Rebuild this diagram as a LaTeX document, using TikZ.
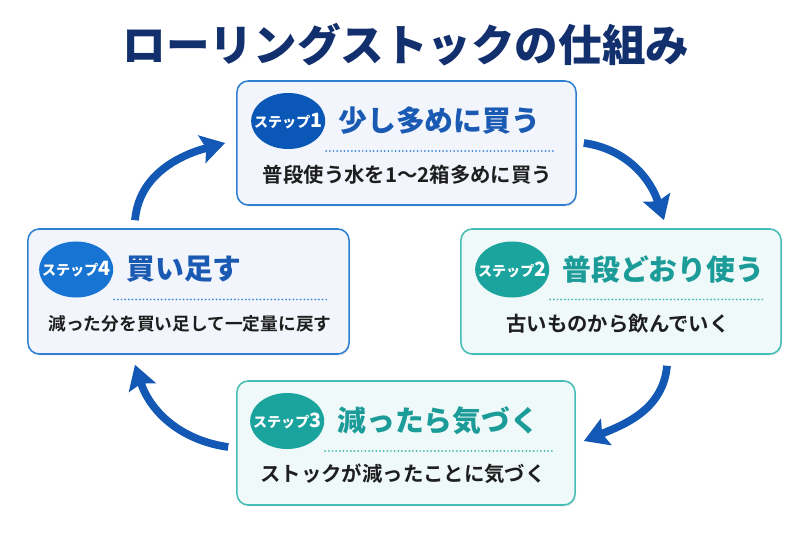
\documentclass[tikz,border=0pt]{standalone}
\usepackage{fontspec}
\setmainfont{Noto Sans CJK JP}[BoldFont={* Bold}]
\newfontfamily\heavyjp{Noto Sans CJK JP Black}
\usepackage{tikz}
\usetikzlibrary{shapes.geometric, arrows.meta, positioning, calc, shadows}

\definecolor{navy}{HTML}{13306E}
\definecolor{cardblue}{HTML}{2F80D2}
\definecolor{fillblue}{HTML}{F2F6FC}
\definecolor{cardteal}{HTML}{45BDB7}
\definecolor{fillteal}{HTML}{EFF9F9}
\definecolor{badgeblue}{HTML}{0B57B8}
\definecolor{badgesky}{HTML}{1874D2}
\definecolor{badgeteal}{HTML}{1BA39E}
\definecolor{titleblue}{HTML}{1A5AB3}
\definecolor{titleteal}{HTML}{1C9C98}
\definecolor{dotblue}{HTML}{3A86D6}
\definecolor{dotteal}{HTML}{3DB8B2}
\definecolor{ink}{HTML}{1E1E1E}
\definecolor{arrowblue}{HTML}{1458B5}

\newcommand\bnum[1]{{\fontsize{14pt}{14pt}\selectfont #1}}

\begin{document}
\begin{tikzpicture}[
  x=0.025cm, y=0.025cm,
  every node/.style={font=\bfseries},
  card/.style={rectangle, rounded corners=8pt, line width=1.1pt, inner sep=0pt,
    drop shadow={opacity=0.12, shadow xshift=0.8pt, shadow yshift=-1.2pt}},
  bluecard/.style={card, draw=cardblue, fill=fillblue},
  tealcard/.style={card, draw=cardteal, fill=fillteal},
  badge/.style={ellipse, inner sep=0pt, minimum width=1.85cm,
    minimum height=1.4cm},
  badgetxt/.style={text=white, inner sep=0pt,
    font=\heavyjp\fontsize{10pt}{11pt}\selectfont},
  steptitle/.style={inner sep=0pt, anchor=west,
    font=\heavyjp\fontsize{20.5pt}{24pt}\selectfont},
  desc/.style={text=ink, inner sep=0pt,
    font=\bfseries\fontsize{14.5pt}{17pt}\selectfont},
  sepline/.style={line width=1.4pt, line cap=round,
    dash pattern=on 0pt off 2.6pt},
  cyc/.style={line width=5.5pt, draw=arrowblue,
    -{Stealth[length=17pt, width=20pt, inset=3pt]}}
]

\fill[white] (0,0) rectangle (812,541);
\useasboundingbox (0,0) rectangle (812,541);

\node[font=\heavyjp\fontsize{31pt}{36pt}\selectfont, text=navy] (head)
  at (406,496) {ローリングストックの仕組み};

\node[bluecard, minimum width=8.475cm, minimum height=3.1cm] (box1)
  at (406.5,398) {};
\node[tealcard, minimum width=8cm, minimum height=3.125cm] (box2)
  at (621,249.5) {};
\node[tealcard, minimum width=8.45cm, minimum height=3.1cm] (box3)
  at (406,98) {};
\node[bluecard, minimum width=8.025cm, minimum height=3.125cm] (box4)
  at (188.5,249.5) {};

\node[badge, fill=badgeblue, label={[badgetxt]center:ステップ\bnum{1}}] (b1)
  at ($(box1.west)+(52,22)$) {};
\node[steptitle, text=titleblue, right=9pt of b1] (t1) {少し多めに買う};
\draw[sepline, draw=dotblue] ($(b1.center)+(38,-30)$) -- ($(box1.east)+(-22,-8)$);
\node[desc] (d1) at ($(box1.center)+(1,-32)$) {普段使う水を1〜2箱多めに買う};

\node[badge, fill=badgeteal, label={[badgetxt]center:ステップ\bnum{2}}] (b2)
  at ($(box2.west)+(52,22)$) {};
\node[steptitle, text=titleteal, right=9pt of b2] (t2) {普段どおり使う};
\draw[sepline, draw=dotteal] ($(b2.center)+(38,-30)$) -- ($(box2.east)+(-18,-8)$);
\node[desc] (d2) at ($(box2.center)+(-3,-32)$) {古いものから飲んでいく};

\node[badge, fill=badgeteal, label={[badgetxt]center:ステップ\bnum{3}}] (b3)
  at ($(box3.west)+(51,22)$) {};
\node[steptitle, text=titleteal, right=9pt of b3] (t3) {減ったら気づく};
\draw[sepline, draw=dotteal] ($(b3.center)+(38,-30)$) -- ($(box3.east)+(-22,-8)$);
\node[desc] (d3) at ($(box3.center)+(-3,-31)$) {ストックが減ったことに気づく};

\node[badge, fill=badgesky, label={[badgetxt]center:ステップ\bnum{4}}] (b4)
  at ($(box4.west)+(49,22)$) {};
\node[steptitle, text=titleblue, right=9pt of b4] (t4) {買い足す};
\draw[sepline, draw=dotblue] ($(b4.center)+(38,-30)$) -- ($(box4.east)+(-21,-8)$);
\node[desc, font=\bfseries\fontsize{12.6pt}{15pt}\selectfont] (d4)
  at ($(box4.center)+(1.5,-32)$) {減った分を買い足して一定量に戻す};

\draw[cyc] ($(box1.east)+(7,0)$) to[out=-8, in=108] ($(box2.north)+(43,8)$);
\draw[cyc] ($(box2.south)+(46,-11)$) to[out=-95, in=22] ($(box3.east)+(8,2)$);
\draw[cyc] ($(box3.west)+(-8,-4)$) to[out=172, in=-72] ($(box4.south)+(-53.5,-10)$);
\draw[cyc] ($(box4.north)+(-53.5,8)$) to[out=85, in=195] ($(box1.west)+(-11,0)$);

\end{tikzpicture}
\end{document}
